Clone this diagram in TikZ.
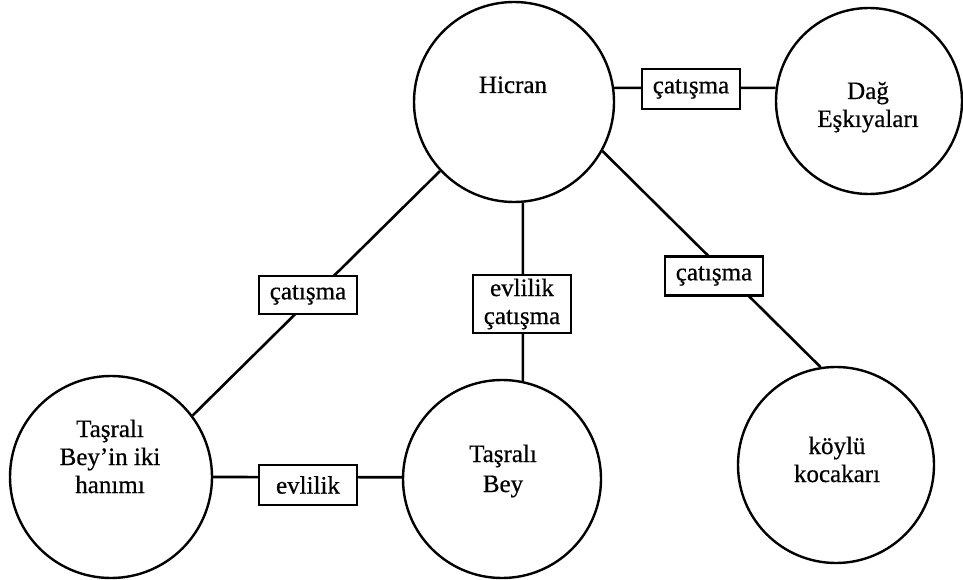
\documentclass[tikz,border=0pt]{standalone}
\usepackage{fontspec}
\setmainfont{Liberation Serif}[FakeBold=0.6]
\begin{document}
\begin{tikzpicture}[x=1pt,y=-1pt,
  person/.style={draw, circle, line width=2.4pt, inner sep=0pt},
  who/.style={font=\fontsize{25}{28}\selectfont, align=center, anchor=base, inner sep=0pt},
  tie/.style={draw, line width=2.2pt, fill=white, font=\fontsize{25}{28}\selectfont,
              align=center, inner sep=0pt, minimum width=98pt},
  link/.style={line width=2.6pt}]
\useasboundingbox (0,0) rectangle (963,580);

% characters
\node[person, minimum size=200pt] (hicran) at (514,102) {};
\node[person, minimum size=186pt] (dag)    at (869,101) {};
\node[person, minimum size=202pt] (hanim)  at (111,477) {};
\node[person, minimum size=198pt] (bey)    at (502,479) {};
\node[person, minimum size=196pt] (koylu)  at (836,465) {};

% names inside the circles (anchored on the baseline of the last line)
\node[who] (lh) at (513,93)  {Hicran};
\node[who] (ld) at (868,127) {Dağ\\Eşkıyaları};
\node[who] (lw) at (110,493) {Taşralı\\Bey’in iki\\hanımı};
\node[who, font=\fontsize{25}{30}\selectfont] (lb) at (503,492) {Taşralı\\Bey};
\node[who] (lk) at (837,482) {köylü\\kocakarı};

% relations
\draw[link] (hicran.8)   -- (dag.172);
\draw[link] (hicran.223) -- (hanim.37);
\draw[link] (hicran.-85) -- (bey.78);
\draw[link] (hicran.-29) -- (koylu.99);
\draw[link] (hanim.0)    -- (bey.179);

% relation labels
\node[tie, minimum height=40pt] (t1) at (691,89)  {çatışma};
\node[tie, minimum height=38pt] (t2) at (308,295) {çatışma};
\node[tie, minimum height=58pt] (t3) at (522,304) {evlilik\\çatışma};
\node[tie, minimum height=39pt] (t4) at (714,276) {çatışma};
\node[tie, minimum height=40pt] (t5) at (308,485) {evlilik};
\end{tikzpicture}
\end{document}
